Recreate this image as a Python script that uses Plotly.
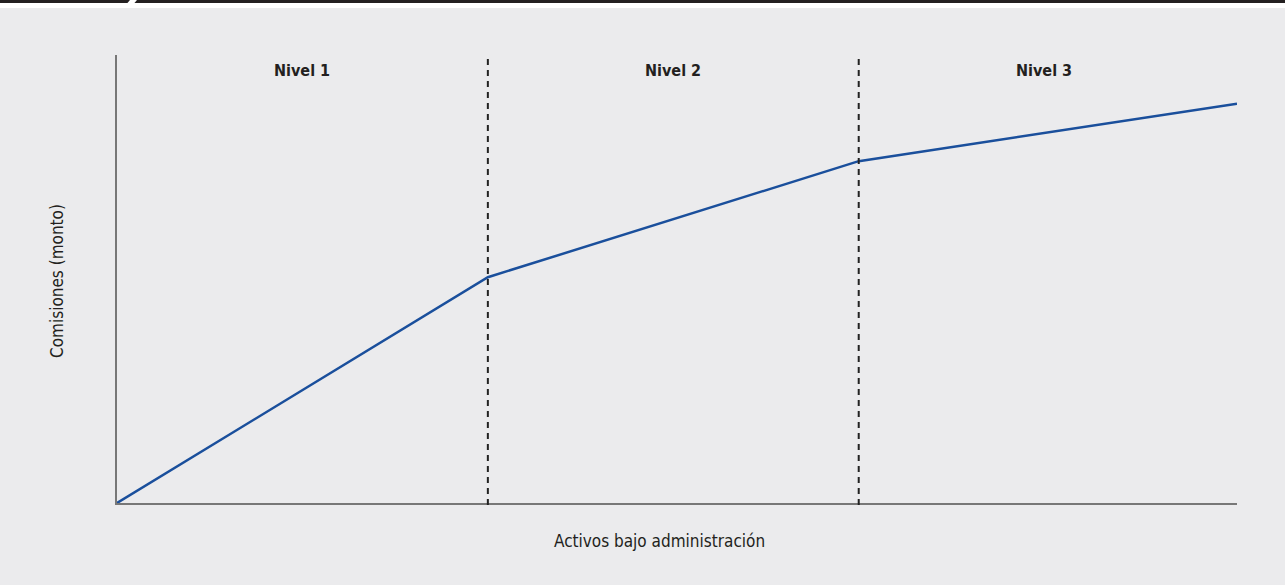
import plotly.graph_objects as go

# Tiered fee schedule: assets under management vs. fees
activos = [0, 1, 2, 3.02]
comisiones = [0, 50.4, 76.3, 89.1]
limites_nivel = [1, 2]
niveles = ["Nivel 1", "Nivel 2", "Nivel 3"]
nivel_centros = [0.5, 1.5, 2.5]

BG = "#ebebed"
FONT = "DejaVu Sans Condensed, sans-serif"

W, H = 1285, 585
L, R, T, B = 117, 1237, 55, 503


def px(x):
    return (x - L) / (R - L)


def py(y):
    return (B - y) / (B - T)


fig = go.Figure()
fig.add_trace(go.Scatter(
    x=activos, y=comisiones, mode="lines",
    line=dict(color="#1a4f9c", width=2.5),
    hoverinfo="skip", showlegend=False,
))

shapes = []
for xb in limites_nivel:
    shapes.append(dict(
        type="line", xref="x", yref="paper", x0=xb, x1=xb, y0=py(505), y1=1,
        line=dict(color="#222222", width=2, dash="6px,5px"),
    ))

# header band with slanted notch
shapes.append(dict(type="rect", xref="paper", yref="paper",
                   x0=px(0), x1=px(W), y0=py(8), y1=py(0),
                   fillcolor="white", line=dict(width=0), layer="above"))
shapes.append(dict(type="rect", xref="paper", yref="paper",
                   x0=px(0), x1=px(W), y0=py(3), y1=py(0),
                   fillcolor="#231f20", line=dict(width=0), layer="above"))
shapes.append(dict(
    type="path", xref="paper", yref="paper",
    path=(f"M {px(130)} {py(0)} L {px(137)} {py(0)} "
          f"L {px(134)} {py(3.5)} L {px(127)} {py(3.5)} Z"),
    fillcolor="white", line=dict(width=0), layer="above",
))

annotations = []
for name, xc in zip(niveles, nivel_centros):
    annotations.append(dict(
        x=xc, y=py(70), xref="x", yref="paper", text=f"<b>{name}</b>",
        showarrow=False, font=dict(family=FONT, size=16, color="#231f20"),
        xanchor="center", yanchor="middle",
    ))
annotations.append(dict(
    x=px(659), y=py(541), xref="paper", yref="paper",
    text="Activos bajo administración", showarrow=False,
    font=dict(family=FONT, size=17, color="#231f20"),
    xanchor="center", yanchor="middle",
))
annotations.append(dict(
    x=px(57), y=py(281), xref="paper", yref="paper",
    text="Comisiones (monto)", showarrow=False, textangle=-90,
    font=dict(family=FONT, size=17, color="#231f20"),
    xanchor="center", yanchor="middle",
))

fig.update_layout(
    width=W, height=H,
    margin=dict(l=L, r=W - R, t=T, b=H - B, pad=0),
    paper_bgcolor=BG, plot_bgcolor=BG,
    shapes=shapes, annotations=annotations,
    xaxis=dict(range=[0, 3.02], showgrid=False, zeroline=False,
               showticklabels=False, ticks="", showline=True,
               linecolor="#777777", linewidth=2, fixedrange=True),
    yaxis=dict(range=[0, 100], showgrid=False, zeroline=False,
               showticklabels=False, ticks="", showline=True,
               linecolor="#777777", linewidth=1.5, fixedrange=True),
)

fig.write_html("out.html", config={"displayModeBar": False})
